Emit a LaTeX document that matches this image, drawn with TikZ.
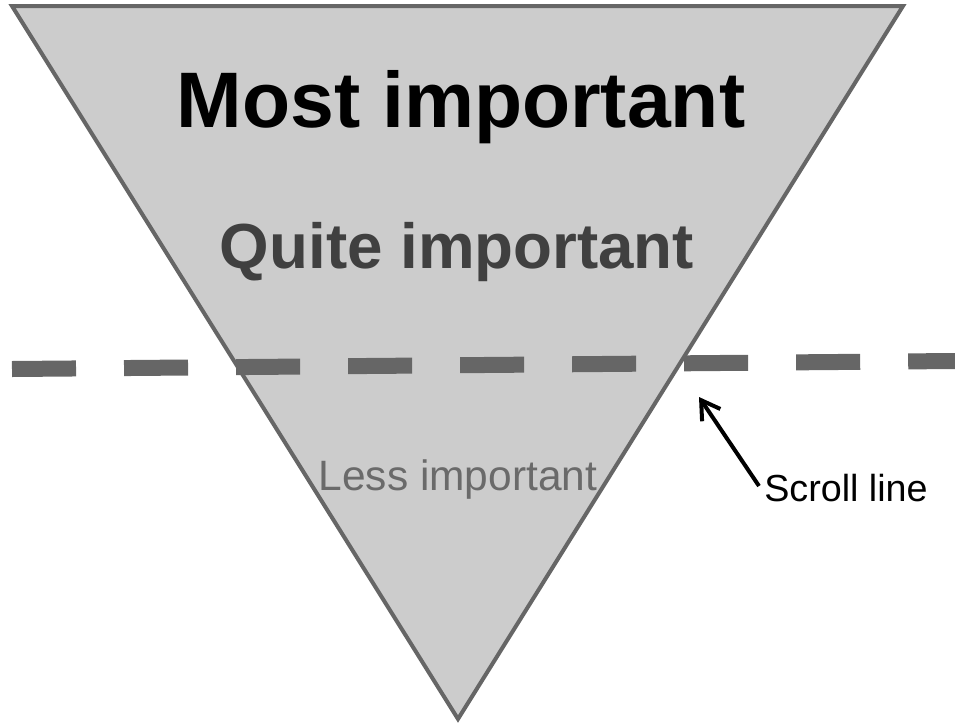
\documentclass[tikz,border=0pt]{standalone}
\usepackage{fontspec}
\setmainfont{Liberation Sans}
\usetikzlibrary{arrows.meta}
\definecolor{funnelfill}{HTML}{CCCCCC}
\definecolor{funneledge}{HTML}{666666}
\definecolor{quitegray}{HTML}{404040}
\definecolor{lessgray}{HTML}{6A6A6A}
\begin{document}
\begin{tikzpicture}[
        x=0.025cm, y=-0.025cm,
        funnel/.style={fill=funnelfill, draw=funneledge, line width=0.1cm},
        scrollrule/.style={draw=funneledge, line width=0.4cm, dash pattern=on 1.6cm off 1.2cm},
        level/.style={anchor=base, inner sep=0pt},
        pointer/.style={-{Straight Barb[length=0.45cm, width=0.55cm]}, line width=0.1cm}
    ]
        \useasboundingbox (0,0) rectangle (955,725);

        % Funnel
        \coordinate (topleft) at (12,6);
        \coordinate (topright) at (903,6);
        \coordinate (apex) at (458,719);
        \draw[funnel] (topleft) -- (topright) -- (apex) -- cycle;

        % Levels
        \node[level] (most) at (461,127) {\fontsize{56}{60}\selectfont\bfseries Most important};
        \node[level, text=quitegray] (quite) at (457,268) {\fontsize{45.3}{50}\selectfont\bfseries Quite important};
        \node[level, text=lessgray] (less) at (458,490) {\fontsize{30.2}{33}\selectfont Less important};

        % Scroll line
        \coordinate (ruleleft) at (12,369);
        \coordinate (ruleright) at (955,361);
        \draw[scrollrule] (ruleleft) -- (ruleright);

        \node[level] (scroll) at (846,501) {\fontsize{26.8}{30}\selectfont Scroll line};
        \coordinate (tail) at (759,486);
        \coordinate (tip) at (699,397);
        \draw[pointer] (tail) -- (tip);
    \end{tikzpicture}
\end{document}
